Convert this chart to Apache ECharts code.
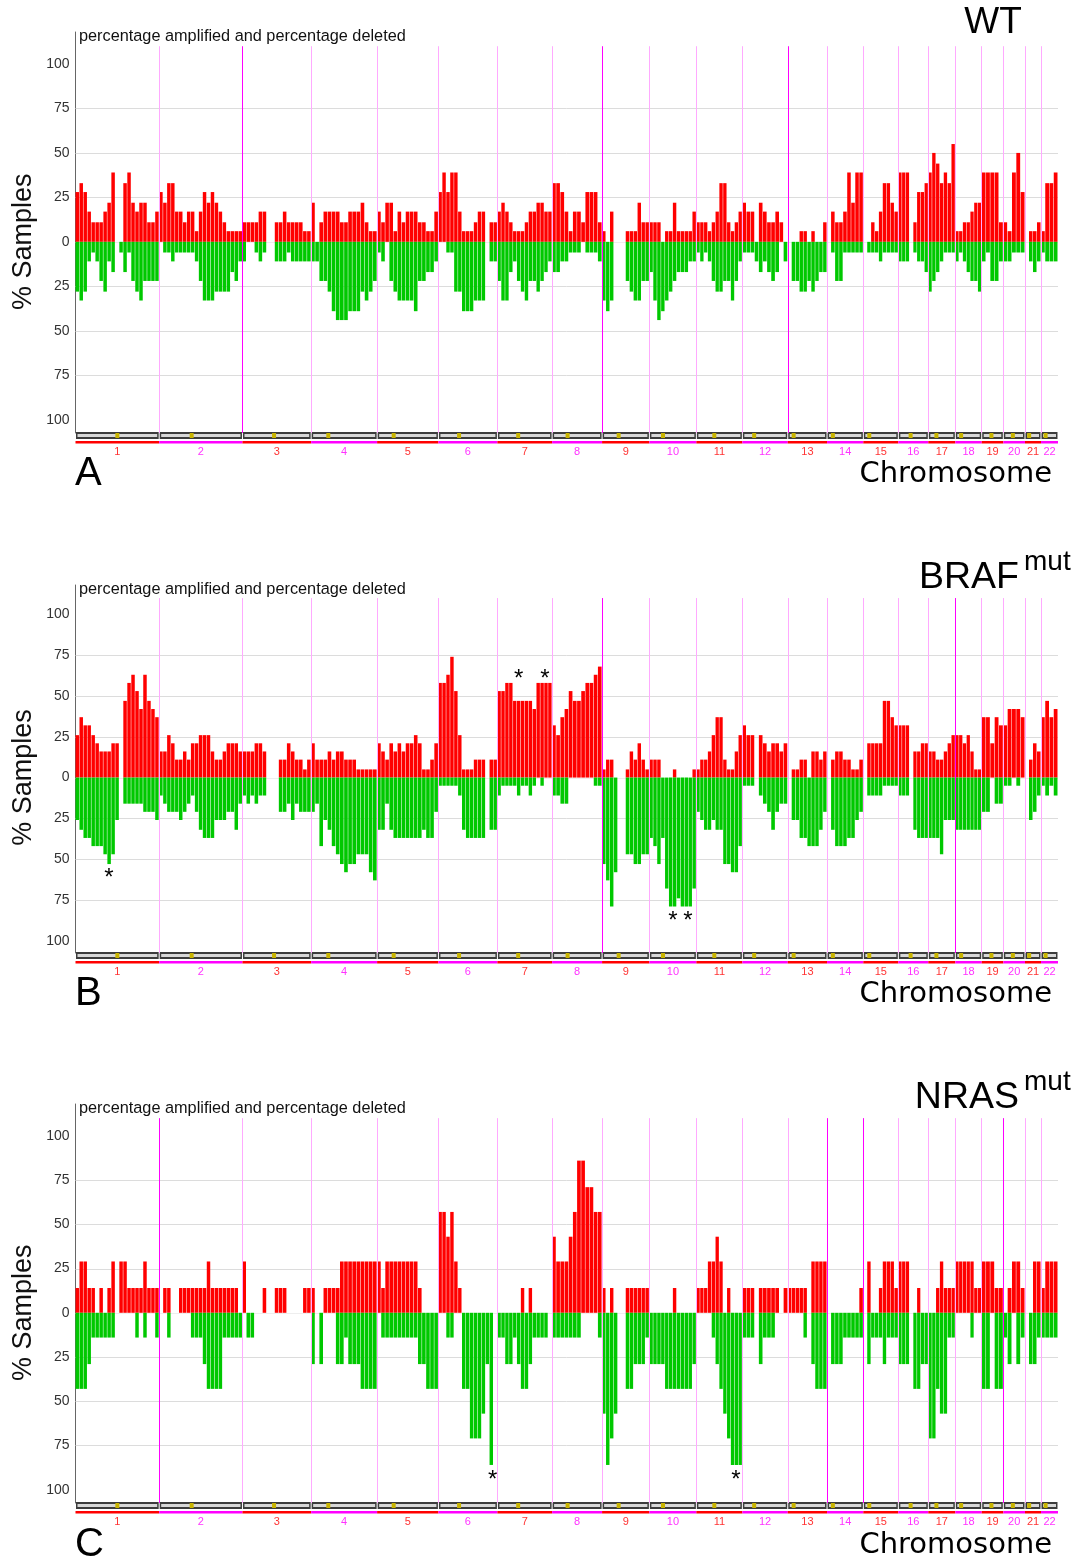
<!DOCTYPE html>
<html>
<head>
<meta charset="utf-8">
<script src="https://cdn.jsdelivr.net/npm/echarts@6.0.0/dist/echarts.min.js"></script>
<style>
html,body{margin:0;padding:0;background:#fff}
#chart{width:1080px;height:1561px}
</style>
</head>
<body>
<div id="chart"></div>
<script>
// chromosome layout (plot units), labels and y ticks
var chromNames = ['1','2','3','4','5','6','7','8','9','10','11','12','13','14','15','16','17','18','19','20','21','22'];
var chromSizes = [83.7,83.3,68.7,66,61.3,59,54.7,50,47.3,47,46,45.4,39.3,36.3,35,30,27,26.4,21.6,21.7,16,17];
var centroFrac = [0.50,0.39,0.46,0.26,0.27,0.35,0.38,0.31,0.35,0.29,0.39,0.26,0.15,0.16,0.17,0.41,0.30,0.22,0.45,0.44,0.26,0.27];
var yTicks = [-100,-75,-50,-25,0,25,50,75,100];
var gridLevels = [-75,-50,-25,0,25,50,75];

// % samples amplified / deleted, per chromosome, evenly spaced bins
var ampA = [
 [28,33,28,17,11,11,11,17,22,39,0,0,33,39,22,17,22,22,11,11,17],
 [28,22,33,33,17,17,11,17,17,6,17,28,22,28,22,17,11,6,6,6,6],
 [11,11,11,11,17,17,0,0,11,11,17,11,11,11,11,6,6],
 [22,0,11,17,17,17,17,11,11,17,17,17,22,11,6,6],
 [17,11,22,22,6,17,11,17,17,17,11,11,6,6,17],
 [28,39,28,39,39,17,6,6,6,11,17,17,0,11,11],
 [17,22,17,11,6,6,6,11,17,17,22,22,17,17],
 [33,33,28,17,6,17,17,11,28,28,28,11],
 [6,0,17,0,0,0,6,6,6,22,11,11],
 [11,11,11,0,6,6,22,6,6,6,6,17],
 [11,11,11,6,11,17,33,33,11,6,11,17],
 [22,17,17,0,22,17,11,11,17,11,0],
 [0,0,0,6,6,0,6,0,0,11],
 [0,17,11,11,17,39,22,39,39],
 [0,0,11,6,17,33,33,22,17],
 [39,39,39,0,11,28,28,33],
 [39,50,44,33,39,33,55],
 [6,6,11,11,17,22,22],
 [39,39,39,39,11],
 [11,6,39,50,28],
 [0,6,6,11],
 [6,33,33,39]
];
var delA = [
 [28,33,28,11,6,11,22,28,11,17,0,6,17,6,22,28,33,22,22,22,22],
 [0,6,6,11,6,6,6,6,6,11,22,33,33,33,28,28,28,28,17,22,11],
 [11,0,0,6,11,6,0,0,11,11,11,6,11,11,11,11,11],
 [11,11,22,22,28,39,44,44,44,39,39,39,28,33,28,22],
 [6,11,0,22,28,33,33,33,33,39,22,22,17,17,11],
 [0,0,6,6,28,28,39,39,39,33,33,33,0,11,11],
 [22,33,33,17,11,22,28,33,22,22,28,22,17,11],
 [17,17,11,11,6,6,6,0,6,6,6,11],
 [33,39,33,0,0,0,22,28,33,33,22,22],
 [17,33,44,39,33,28,22,17,17,17,11,11],
 [6,11,6,11,22,28,28,22,22,33,22,11],
 [6,6,6,11,17,11,17,22,17,0,11],
 [0,22,22,28,28,22,28,22,17,17],
 [0,6,22,22,6,6,6,6,6],
 [0,6,6,6,11,6,6,6,6],
 [11,11,11,0,6,11,11,17],
 [28,22,17,11,6,6,6],
 [11,6,11,17,22,22,28],
 [11,6,22,22,11],
 [11,11,6,6,6],
 [0,11,17,11],
 [6,11,11,11]
];
var ampB = [
 [26,37,32,32,26,21,16,16,16,21,21,0,47,58,63,53,42,63,47,42,37],
 [16,16,26,21,11,11,16,11,21,21,26,26,26,16,11,11,16,21,21,21,16],
 [16,16,16,21,21,16,0,0,0,11,11,21,16,11,11,5,11],
 [21,11,11,11,16,11,16,16,11,11,11,5,5,5,5,5],
 [21,16,11,21,16,21,16,21,21,26,21,5,5,11,21],
 [58,58,63,74,53,26,5,5,5,11,11,11,0,11,11],
 [53,53,58,58,47,47,47,47,47,42,58,58,58,58],
 [32,26,37,42,53,47,47,53,58,58,63,68],
 [5,11,11,0,0,0,5,16,11,21,11,5],
 [11,11,11,0,0,0,5,0,0,0,0,5],
 [5,11,11,16,26,37,37,11,5,5,16,26],
 [32,26,26,0,26,21,16,21,21,16,21],
 [0,5,5,11,11,0,16,16,11,16],
 [0,11,16,16,11,11,5,5,11],
 [0,21,21,21,21,47,47,37,32],
 [32,32,32,0,16,16,21,21],
 [16,16,11,11,16,21,26],
 [26,26,21,26,16,5,5],
 [37,37,21,37,32],
 [32,42,42,42,37],
 [0,11,21,16],
 [37,47,37,42]
];
var delB = [
 [26,32,37,37,42,42,42,47,53,47,26,0,16,16,16,16,16,21,21,21,26],
 [11,16,21,21,21,26,21,16,11,21,32,37,37,37,26,26,26,21,21,32,16],
 [11,16,11,16,11,11,0,0,0,21,21,16,26,16,21,21,21],
 [21,16,42,26,32,42,47,53,58,53,53,47,47,47,58,63],
 [32,32,16,32,37,37,37,37,37,37,37,32,37,37,21],
 [5,5,5,5,5,11,32,37,37,37,37,37,0,32,32],
 [11,5,5,5,5,11,5,5,11,5,0,5,0,0],
 [11,11,16,16,0,0,0,0,0,0,5,5],
 [53,63,79,58,0,0,47,47,53,53,47,47],
 [37,42,53,37,68,79,79,74,79,79,79,68],
 [21,26,32,32,26,32,32,53,53,58,58,42],
 [5,5,5,0,11,16,21,32,21,16,16],
 [0,26,26,37,37,42,42,42,32,21],
 [0,32,42,42,42,37,37,26,21],
 [0,11,11,11,11,5,5,5,5],
 [11,11,11,0,32,37,37,37],
 [37,37,37,47,26,26,26],
 [32,32,32,32,32,32,32],
 [21,21,0,16,16],
 [5,5,0,5,0],
 [0,26,21,11],
 [5,11,5,11]
];
var ampC = [
 [14,29,29,14,14,0,14,0,14,29,0,29,29,14,14,14,14,29,14,14,14],
 [0,14,14,0,0,14,14,14,14,14,14,14,29,14,14,14,14,14,14,14,0],
 [29,0,0,0,0,14,0,0,14,14,14,0,0,0,0,14,14],
 [14,0,0,14,14,14,14,29,29,29,29,29,29,29,29,29],
 [29,14,29,29,29,29,29,29,29,29,14,0,0,0,0],
 [57,57,43,57,29,14,0,0,0,0,0,0,0,0,0],
 [0,0,0,0,0,0,14,0,14,0,0,0,0,0],
 [43,29,29,29,43,57,86,86,71,71,57,57],
 [14,0,14,0,0,0,14,14,14,14,14,14],
 [0,0,0,0,0,0,14,0,0,0,0,0],
 [14,14,14,29,29,43,29,0,14,0,0,0],
 [14,14,14,0,14,14,14,14,14,0,14],
 [14,14,14,14,14,0,29,29,29,29],
 [0,0,0,0,0,0,0,0,14],
 [0,29,0,0,14,29,29,29,14],
 [29,29,29,0,0,14,0,0],
 [0,0,14,29,14,14,14],
 [29,29,29,29,29,14,14],
 [29,29,29,14,14],
 [0,14,29,29,14],
 [0,0,29,29],
 [14,29,29,29]
];
var delC = [
 [43,43,43,29,14,14,14,14,14,14,0,0,0,0,0,14,0,14,0,0,14],
 [0,0,14,0,0,0,0,0,14,14,14,29,43,43,43,43,14,14,14,14,14],
 [0,14,14,0,0,0,0,0,0,0,0,0,0,0,0,0,0],
 [29,0,29,0,0,0,29,29,14,29,29,29,43,43,43,43],
 [0,14,14,14,14,14,14,14,14,14,29,29,43,43,43],
 [0,0,14,14,0,0,43,43,71,71,71,57,29,86,0],
 [14,14,29,29,14,29,43,43,29,14,14,14,14,0],
 [14,14,14,14,14,14,14,0,0,0,0,14],
 [57,86,71,57,0,0,43,43,29,29,29,14],
 [29,29,29,29,43,43,43,43,43,43,43,29],
 [0,0,0,0,14,29,43,57,71,86,86,86],
 [14,14,14,0,29,14,14,14,0,0,0],
 [0,0,0,0,14,0,29,43,43,43],
 [0,29,29,29,14,14,14,14,14],
 [0,29,14,14,14,29,14,14,14],
 [29,29,29,0,43,43,29,29],
 [71,71,43,57,57,14,14],
 [0,0,0,0,14,0,0],
 [43,43,0,43,43],
 [14,29,0,29,14],
 [0,29,29,14],
 [14,14,14,14]
];

// boundaries drawn darker (after chromosome n)
var darkA = [2, 8, 12];
var darkB = [8, 17];
var darkC = [1, 13, 14, 19];
// asterisks: [chromosome, position within chromosome, % value]
var starsA = [];
var starsB = [[1,0.40,-61.5],[7,0.39,60],[7,0.87,60],[10,0.50,-88],[10,0.82,-88]];
var starsC = [[6,0.92,-94.5],[11,0.86,-94.5]];

var Y_MIN = -107.5, Y_MAX = 118, LINE_TOP = 110;
var chromStart = [];
var total = 0;
for (var c = 0; c < chromSizes.length; c++) { chromStart.push(total); total += chromSizes[c]; }

function buildBins(arr, sign) {
    var out = [];
    for (var c = 0; c < arr.length; c++) {
        var n = arr[c].length, w = chromSizes[c] / n;
        for (var i = 0; i < n; i++) {
            if (arr[c][i] > 0) out.push([chromStart[c] + i * w, chromStart[c] + (i + 1) * w, sign * arr[c][i]]);
        }
    }
    return out;
}

function renderBar(params, api) {
    var x0 = api.value(0), x1 = api.value(1), v = api.value(2);
    var a = api.coord([x0, 0]), b = api.coord([x1, v]);
    return {
        type: 'rect',
        shape: {x: a[0], y: Math.min(a[1], b[1]), width: Math.max(b[0] - a[0] - 0.5, 0.8), height: Math.abs(b[1] - a[1])},
        style: {fill: v > 0 ? '#ff0000' : '#00c800'}
    };
}

function renderGridLines(params, api) {
    var g = api.value(0);
    var l = api.coord([0, g]), r = api.coord([total, g]);
    return {type: 'line', shape: {x1: l[0], y1: Math.round(l[1]) + 0.5, x2: r[0], y2: Math.round(r[1]) + 0.5},
        style: {stroke: g === 0 ? '#eeeeee' : '#dcdcdc', lineWidth: 1}};
}

// ideogram strip, coloured underline and label for each chromosome
function renderChrom(params, api) {
    var s = api.value(0), e = api.value(1), idx = api.value(2);
    var p0 = api.coord([s, Y_MIN]), p1 = api.coord([e, Y_MIN]);
    var y = Math.round(p0[1]);
    var odd = idx % 2 === 0;
    var cx = p0[0] + (p1[0] - p0[0]) * centroFrac[idx];
    return {type: 'group', children: [
        {type: 'rect', shape: {x: p0[0] + 0.5, y: y - 1, width: p1[0] - p0[0] - 1, height: 7}, style: {fill: '#3c3c3c'}},
        {type: 'rect', shape: {x: p0[0] + 2, y: y + 1, width: p1[0] - p0[0] - 4, height: 3}, style: {fill: '#d8d8d8'}},
        {type: 'rect', shape: {x: cx - 2, y: y, width: 4, height: 5}, style: {fill: '#c8b400'}},
        {type: 'rect', shape: {x: p0[0], y: y + 8, width: p1[0] - p0[0], height: 2.5}, style: {fill: odd ? '#ff0000' : '#ff00ff'}},
        {type: 'text', x: (p0[0] + p1[0]) / 2, y: y + 19, style: {text: chromNames[idx], fill: odd ? '#ff3333' : '#ff33ff', fontSize: 11, fontFamily: 'Liberation Sans', align: 'center', verticalAlign: 'middle'}}
    ]};
}

function renderStar(params, api) {
    var p = api.coord([api.value(0), api.value(1)]);
    return {type: 'text', x: p[0], y: p[1], style: {text: '*', fill: '#000', fontSize: 24, fontFamily: 'Liberation Sans', align: 'center', verticalAlign: 'middle'}};
}

var panels = [
    {top: 32, height: 401, amp: ampA, del: delA, dark: darkA, stars: starsA, name: 'WT', sup: '', letter: 'A', bottomTextY: 474, nameY: 23},
    {top: 585, height: 368, amp: ampB, del: delB, dark: darkB, stars: starsB, name: 'BRAF', sup: 'mut', letter: 'B', bottomTextY: 994, nameY: 578},
    {top: 1104, height: 399, amp: ampC, del: delC, dark: darkC, stars: starsC, name: 'NRAS', sup: 'mut', letter: 'C', bottomTextY: 1545, nameY: 1098}
];

var option = {backgroundColor: '#fff', animation: false, grid: [], xAxis: [], yAxis: [], series: [], graphic: []};

panels.forEach(function (p, i) {
    option.grid.push({left: 75.5, width: 982.5, top: p.top, height: p.height, outerBoundsMode: 'none'});
    option.xAxis.push({gridIndex: i, type: 'value', min: 0, max: total, show: false});
    option.yAxis.push({
        gridIndex: i, type: 'value', min: Y_MIN, max: Y_MAX,
        axisLine: {show: true, lineStyle: {color: '#666', width: 1}},
        axisTick: {show: false},
        splitLine: {show: false},
        axisLabel: {customValues: yTicks, formatter: function (v) { return Math.abs(v); }, color: '#333', fontSize: 14, fontFamily: 'Liberation Sans', margin: 6}
    });

    var chromData = chromSizes.map(function (s, c) { return [chromStart[c], chromStart[c] + s, c]; });
    var starData = p.stars.map(function (s) { return [chromStart[s[0] - 1] + s[1] * chromSizes[s[0] - 1], s[2]]; });
    var boundLines = [];
    for (var c = 1; c < chromSizes.length; c++) {
        var col = p.dark.indexOf(c) >= 0 ? '#ff00ff' : '#ffaaff';
        boundLines.push([
            {coord: [chromStart[c], LINE_TOP], lineStyle: {color: col, width: 1, type: 'solid'}},
            {coord: [chromStart[c], Y_MIN]}
        ]);
    }

    option.series.push(
        {type: 'custom', name: 'grid', xAxisIndex: i, yAxisIndex: i, z: 1, silent: true, renderItem: renderGridLines,
            encode: {y: 0}, data: gridLevels.map(function (g) { return [g]; })},
        {type: 'custom', name: 'amplified', xAxisIndex: i, yAxisIndex: i, z: 2, silent: true, renderItem: renderBar, data: buildBins(p.amp, 1),
            markLine: {silent: true, symbol: ['none', 'none'], label: {show: false}, emphasis: {disabled: true}, animation: false, data: boundLines}},
        {type: 'custom', name: 'deleted', xAxisIndex: i, yAxisIndex: i, z: 2, silent: true, renderItem: renderBar, data: buildBins(p.del, -1)},
        {type: 'custom', name: 'chromosomes', xAxisIndex: i, yAxisIndex: i, z: 3, clip: false, silent: true, renderItem: renderChrom, data: chromData},
        {type: 'custom', name: 'stars', xAxisIndex: i, yAxisIndex: i, z: 4, clip: false, silent: true, renderItem: renderStar, data: starData}
    );

    var zeroY = p.top + p.height * Y_MAX / (Y_MAX - Y_MIN);
    option.graphic.push(
        {type: 'text', x: 79, y: p.top + 5, style: {text: 'percentage amplified and percentage deleted', fill: '#111', fontSize: 16.3, fontFamily: 'Liberation Sans', align: 'left', verticalAlign: 'middle'}},
        {type: 'text', x: 24, y: zeroY, rotation: Math.PI / 2, style: {text: '% Samples', fill: '#111', fontSize: 27, fontFamily: 'Liberation Sans', align: 'center', verticalAlign: 'middle'}},
        {type: 'text', x: 75, y: p.bottomTextY, style: {text: p.letter, fill: '#000', fontSize: 40, fontFamily: 'Liberation Sans', align: 'left', verticalAlign: 'middle'}},
        {type: 'text', x: 1052, y: p.bottomTextY, style: {text: 'Chromosome', fill: '#000', fontSize: 29, fontFamily: 'DejaVu Sans', align: 'right', verticalAlign: 'middle'}}
    );
    if (p.sup) {
        option.graphic.push(
            {type: 'text', x: 1019, y: p.nameY, style: {text: p.name, fill: '#000', fontSize: 37.5, fontFamily: 'Liberation Sans', align: 'right', verticalAlign: 'middle'}},
            {type: 'text', x: 1024, y: p.nameY - 16, style: {text: p.sup, fill: '#000', fontSize: 28, fontFamily: 'Liberation Sans', align: 'left', verticalAlign: 'middle'}}
        );
    } else {
        option.graphic.push(
            {type: 'text', x: 993, y: p.nameY, style: {text: p.name, fill: '#000', fontSize: 37, fontFamily: 'Liberation Sans', align: 'center', verticalAlign: 'middle'}}
        );
    }
});

var myChart = echarts.init(document.getElementById('chart'), null, {renderer: 'canvas'});
myChart.setOption(option);
</script>
</body>
</html>
